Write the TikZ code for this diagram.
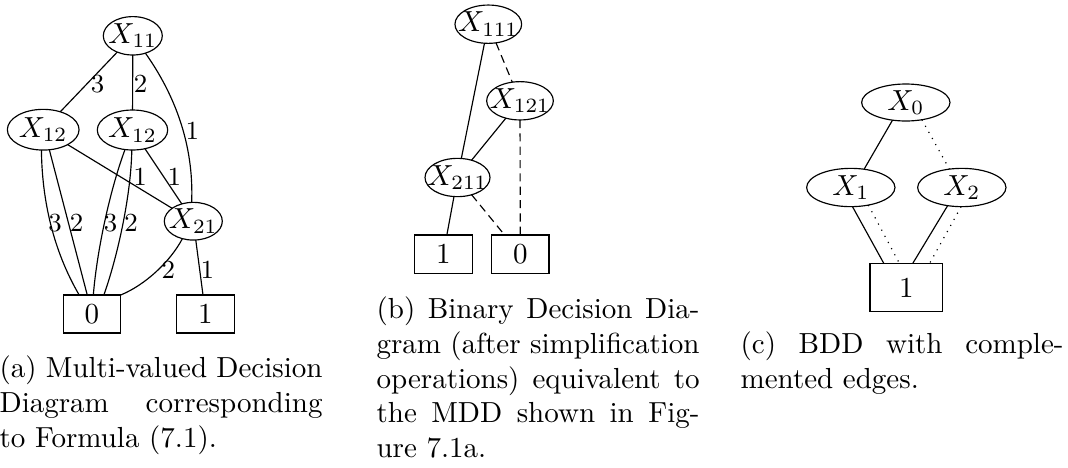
\documentclass[tikz,border=0pt]{standalone}
\usetikzlibrary{shapes.geometric}
\tikzset{
  vnode/.style={ellipse, draw, inner sep=0pt, outer sep=0pt},
  tnode/.style={rectangle, draw, inner sep=0pt, outer sep=0pt},
  elbl/.style={font=\small, inner sep=0pt},
  capline/.style={anchor=base west, inner sep=0pt},
  dsh/.style={dash pattern=on 2.8pt off 1.8pt},
  dtt/.style={dotted},
}
\newcommand{\capwd}{111.3pt}
\begin{document}
\begin{tikzpicture}[x=0.3446pt,y=-0.3446pt]
\useasboundingbox (0,0) rectangle (1068,467);

% ---------- (a) MDD ----------
\node[vnode,minimum width=20.33pt,minimum height=13.23pt] (x11) at (132.8,35.8) {\makebox[0pt]{$X_{11}$}};
\node[vnode,minimum width=24.71pt,minimum height=14.03pt] (x12a) at (43.2,129.7) {\makebox[0pt]{$X_{12}$}};
\node[vnode,minimum width=24.26pt,minimum height=13.78pt] (x12b) at (132.5,130) {\makebox[0pt]{$X_{12}$}};
\node[vnode,minimum width=19.99pt,minimum height=12.99pt] (x21) at (193.3,221.2) {\makebox[0pt]{$X_{21}$}};
\node[tnode,minimum width=19.78pt,minimum height=13.09pt] (b0a) at (92,314) {0};
\node[tnode,minimum width=19.85pt,minimum height=13.09pt] (b1a) at (205.5,314) {1};

\draw (x11) -- (x12a);
\draw (x11) -- (x12b);
\draw (x11.306) .. controls (175,95) and (194,145) .. (x21.95);
\draw (x12a) -- (x21);
\draw (x12b) -- (x21);
\draw (x12a.265) .. controls (42,200) and (53,250) .. (b0a.124);
\draw (x12a.287) -- (b0a.104);
\draw (x12b.249) .. controls (110,190) and (97,250) .. (b0a.86);
\draw (x12b.268) .. controls (131,195) and (118,255) .. (b0a.58);
\draw (x21.238) .. controls (170,262) and (145,285) .. (b0a.north east);
\draw (x21) -- (b1a);

\node[elbl] (la1) at (97.7,84) {3};
\node[elbl] (la2) at (140.7,83.3) {2};
\node[elbl] (la3) at (192.3,130.7) {1};
\node[elbl] (la4) at (140,176.7) {1};
\node[elbl] (la5) at (174.3,176.7) {1};
\node[elbl] (la6) at (55,222.7) {3};
\node[elbl] (la7) at (76.7,222.7) {2};
\node[elbl] (la8) at (110.7,222.7) {3};
\node[elbl] (la9) at (131,222.7) {2};
\node[elbl] (la10) at (168.3,270) {2};
\node[elbl] (la11) at (207.3,270) {1};

% ---------- (b) BDD ----------
\node[vnode,minimum width=22.98pt,minimum height=13.2pt] (x111) at (488.3,24.2) {\makebox[0pt]{$X_{111}$}};
\node[vnode,minimum width=22.98pt,minimum height=13.2pt] (x121) at (520,100.8) {\makebox[0pt]{$X_{121}$}};
\node[vnode,minimum width=22.4pt,minimum height=13.2pt] (x211) at (457.5,177.5) {\makebox[0pt]{$X_{211}$}};
\node[tnode,minimum width=19.99pt,minimum height=13.2pt] (b1b) at (443.3,254.2) {1};
\node[tnode,minimum width=19.75pt,minimum height=13.2pt] (b0b) at (520.3,254.2) {0};

\draw (x111) -- (x211);
\draw[dsh] (x111) -- (x121);
\draw (x121) -- (x211);
\draw[dsh] (x121) -- (b0b);
\draw (x211) -- (b1b);
\draw[dsh] (x211) -- (b0b);

% ---------- (c) BDD with complemented edges ----------
\node[vnode,minimum width=30.43pt,minimum height=12.75pt] (x0) at (905.8,102.5) {\makebox[0pt]{$X_0$}};
\node[vnode,minimum width=30.43pt,minimum height=13.2pt] (x1) at (850.8,187.5) {\makebox[0pt]{$X_1$}};
\node[vnode,minimum width=30.43pt,minimum height=13.2pt] (x2) at (961.8,187.5) {\makebox[0pt]{$X_2$}};
\node[tnode,minimum width=25.05pt,minimum height=16.64pt] (b1c) at (906.3,287.5) {1};

\draw (x0.233) -- (x1.54);
\draw[dtt] (x0.313) -- (x2.124);
\draw (x1.275) -- (b1c.133);
\draw[dtt] (x1.315) -- (b1c.106);
\draw (x2.232) -- (b1c.75);
\draw[dtt] (x2.268) -- (b1c.46);

% ---------- captions ----------
\node[capline] (ca1) at (-1,377) {\makebox[\capwd][s]{(a) Multi-valued Decision}};
\node[capline] (ca2) at (-1,412) {\makebox[\capwd][s]{Diagram corresponding}};
\node[capline] (ca3) at (-1,447) {to Formula (7.1).};

\node[capline] (cb1) at (376,318.5) {\makebox[\capwd][s]{(b) Binary Decision Dia-}};
\node[capline] (cb2) at (376,353) {\makebox[\capwd][s]{gram (after simplification}};
\node[capline] (cb3) at (376,388) {\makebox[\capwd][s]{operations) equivalent to}};
\node[capline] (cb4) at (376,422.5) {\makebox[\capwd][s]{the MDD shown in Fig-}};
\node[capline] (cb5) at (376,457) {ure 7.1a.};

\node[capline] (cc1) at (740,353) {\makebox[\capwd][s]{(c) BDD with comple-}};
\node[capline] (cc2) at (740,388) {mented edges.};
\end{tikzpicture}
\end{document}
